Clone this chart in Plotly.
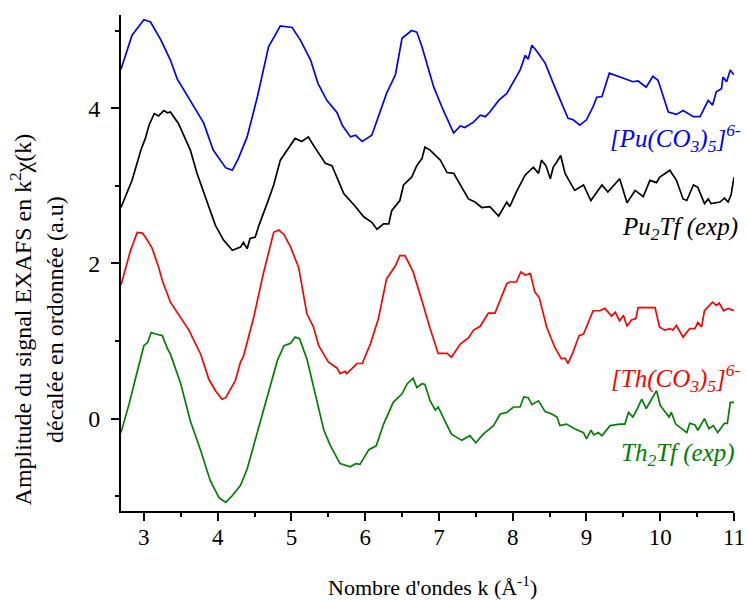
import plotly.graph_objects as go

# ---- data ----
k_pu = [2.69, 2.84, 3.00, 3.09, 3.23, 3.36, 3.45, 3.63, 3.81, 3.94, 4.11, 4.20, 4.28, 4.40, 4.54, 4.69, 4.85, 5.01,
        5.12, 5.26, 5.36, 5.48, 5.62, 5.69, 5.80, 5.87, 5.96, 6.09, 6.18, 6.29, 6.41, 6.50, 6.63, 6.70, 6.77, 6.88,
        6.93, 7.06, 7.20, 7.29, 7.35, 7.47, 7.56, 7.63, 7.69, 7.81, 7.92, 8.10, 8.17, 8.21, 8.26, 8.33, 8.44, 8.55,
        8.69, 8.75, 8.82, 8.91, 9.00, 9.09, 9.14, 9.21, 9.31, 9.45, 9.63, 9.70, 9.81, 9.90, 9.97, 10.11, 10.22,
        10.31, 10.45, 10.54, 10.65, 10.71, 10.76, 10.83, 10.85, 10.90, 10.95, 11.00]
chi_pu = [4.50, 4.94, 5.14, 5.11, 4.88, 4.62, 4.38, 4.10, 3.81, 3.46, 3.23, 3.20, 3.35, 3.63, 4.15, 4.79, 5.06, 5.04,
          4.88, 4.62, 4.32, 4.10, 3.94, 3.78, 3.63, 3.65, 3.57, 3.65, 3.89, 4.19, 4.43, 4.90, 5.00, 4.98, 4.79, 4.45,
          4.27, 3.97, 3.68, 3.77, 3.75, 3.82, 3.91, 3.89, 3.95, 4.10, 4.19, 4.49, 4.68, 4.63, 4.81, 4.73, 4.58, 4.32,
          4.02, 3.87, 3.85, 3.78, 3.85, 4.02, 4.14, 4.15, 4.45, 4.40, 4.34, 4.35, 4.27, 4.41, 4.36, 3.95, 3.92,
          3.97, 3.89, 3.89, 4.10, 4.04, 4.21, 4.25, 4.40, 4.34, 4.49, 4.43]

k_pu2tf = [2.69, 2.84, 2.96, 3.02, 3.07, 3.14, 3.20, 3.27, 3.32, 3.36, 3.47, 3.63, 3.72, 3.88, 3.97, 4.08, 4.20, 4.31,
           4.35, 4.40, 4.44, 4.51, 4.56, 4.67, 4.76, 4.85, 4.96, 5.05, 5.14, 5.23, 5.30, 5.46, 5.55, 5.71, 5.87, 5.98,
           6.09, 6.16, 6.25, 6.32, 6.36, 6.47, 6.52, 6.63, 6.70, 6.77, 6.81, 6.88, 7.02, 7.11, 7.20, 7.29, 7.40, 7.49,
           7.58, 7.69, 7.81, 7.92, 7.96, 8.05, 8.17, 8.28, 8.35, 8.39, 8.45, 8.51, 8.55, 8.60, 8.65, 8.71, 8.84, 8.96,
           9.06, 9.21, 9.29, 9.45, 9.55, 9.66, 9.77, 9.86, 9.95, 9.99, 10.13, 10.22, 10.31, 10.36, 10.45, 10.51,
           10.60, 10.65, 10.69, 10.81, 10.87, 10.92, 10.96, 11.00]
chi_pu2tf = [2.72, 3.07, 3.46, 3.61, 3.78, 3.93, 3.90, 3.97, 3.94, 3.95, 3.80, 3.46, 3.16, 2.73, 2.49, 2.30, 2.17, 2.21,
             2.27, 2.19, 2.32, 2.34, 2.49, 2.77, 3.01, 3.33, 3.48, 3.61, 3.57, 3.63, 3.52, 3.29, 3.26, 2.90, 2.73, 2.60,
             2.53, 2.44, 2.51, 2.51, 2.68, 2.81, 3.01, 3.11, 3.26, 3.35, 3.50, 3.46, 3.33, 3.17, 3.16, 3.01, 2.83, 2.79,
             2.72, 2.73, 2.61, 2.79, 2.73, 2.92, 3.14, 3.24, 3.16, 3.33, 3.26, 3.09, 3.24, 3.31, 3.39, 3.16, 2.94, 3.01,
             2.81, 3.01, 2.92, 3.09, 2.78, 2.94, 2.86, 3.07, 3.04, 3.11, 3.20, 3.07, 2.83, 2.81, 3.01, 2.98,
             2.77, 2.83, 2.77, 2.79, 2.84, 2.79, 2.88, 3.11]

k_th = [2.69, 2.82, 2.91, 2.98, 3.02, 3.11, 3.20, 3.25, 3.36, 3.50, 3.61, 3.77, 3.88, 3.97, 4.06, 4.11, 4.24, 4.31,
        4.35, 4.49, 4.62, 4.76, 4.83, 4.90, 4.99, 5.10, 5.21, 5.30, 5.37, 5.50, 5.62, 5.66, 5.73, 5.75, 5.89, 5.96,
        6.07, 6.18, 6.29, 6.41, 6.47, 6.54, 6.65, 6.77, 6.88, 6.99, 7.11, 7.17, 7.29, 7.40, 7.47, 7.56, 7.67, 7.76,
        7.92, 7.96, 8.05, 8.11, 8.17, 8.24, 8.30, 8.36, 8.46, 8.57, 8.66, 8.71, 8.75, 8.82, 8.90, 8.96, 9.09, 9.18,
        9.25, 9.34, 9.39, 9.45, 9.50, 9.55, 9.61, 9.67, 9.70, 9.93, 9.99, 10.06, 10.13, 10.17, 10.22, 10.31, 10.40,
        10.47, 10.51, 10.56, 10.60, 10.71, 10.76, 10.80, 10.86, 10.92, 11.00]
chi_th = [1.72, 2.17, 2.40, 2.39, 2.34, 2.20, 1.95, 1.78, 1.50, 1.29, 1.14, 0.83, 0.51, 0.36, 0.25, 0.27, 0.49, 0.73,
          0.80, 1.31, 1.87, 2.40, 2.43, 2.37, 2.21, 1.94, 1.35, 1.18, 0.94, 0.73, 0.65, 0.58, 0.61, 0.58, 0.71, 0.71,
          0.96, 1.29, 1.80, 1.97, 2.10, 2.10, 1.89, 1.52, 1.16, 0.84, 0.84, 0.79, 0.96, 1.04, 1.14, 1.19, 1.36, 1.36,
          1.74, 1.76, 1.76, 1.89, 1.85, 1.87, 1.63, 1.56, 1.18, 0.92, 0.77, 0.78, 0.71, 0.86, 1.07, 1.09, 1.39, 1.39,
          1.42, 1.32, 1.37, 1.26, 1.33, 1.19, 1.27, 1.29, 1.43, 1.43, 1.18, 1.14, 1.16, 1.14, 1.20, 1.05, 1.16,
          1.16, 1.24, 1.18, 1.39, 1.50, 1.46, 1.49, 1.39, 1.42, 1.39]

k_th2tf = [2.69, 2.80, 2.89, 3.00, 3.05, 3.10, 3.16, 3.25, 3.32, 3.36, 3.50, 3.63, 3.77, 3.90, 4.02, 4.11, 4.20, 4.31,
           4.40, 4.51, 4.62, 4.81, 4.90, 4.99, 5.05, 5.11, 5.21, 5.32, 5.44, 5.53, 5.66, 5.80, 5.87, 5.93, 6.05, 6.15,
           6.25, 6.38, 6.50, 6.57, 6.65, 6.70, 6.77, 6.81, 6.88, 6.95, 6.99, 7.08, 7.17, 7.31, 7.42, 7.50, 7.60, 7.74,
           7.83, 7.92, 8.01, 8.10, 8.15, 8.21, 8.26, 8.35, 8.44, 8.53, 8.60, 8.64, 8.73, 8.84, 8.96, 9.00, 9.06, 9.10,
           9.16, 9.21, 9.32, 9.45, 9.52, 9.57, 9.63, 9.68, 9.75, 9.81, 9.95, 10.00, 10.06, 10.12, 10.15, 10.21, 10.36,
           10.40, 10.47, 10.51, 10.60, 10.66, 10.72, 10.78, 10.87, 10.91, 10.95, 11.00]
chi_th2tf = [-0.18, 0.19, 0.53, 0.94, 0.98, 1.11, 1.09, 1.07, 0.90, 0.83, 0.45, -0.03, -0.41, -0.80, -1.02, -1.08, -0.99,
             -0.86, -0.65, -0.28, 0.10, 0.75, 0.94, 0.97, 1.05, 1.03, 0.77, 0.32, -0.15, -0.35, -0.58, -0.62, -0.58,
             -0.59, -0.40, -0.35, -0.07, 0.21, 0.32, 0.45, 0.52, 0.40, 0.45, 0.44, 0.23, 0.11, 0.15, -0.03, -0.20,
             -0.28, -0.22, -0.31, -0.20, -0.09, 0.06, 0.08, 0.15, 0.15, 0.28, 0.27, 0.18, 0.23, 0.09, 0.06, 0.02,
             -0.09, -0.07, -0.13, -0.18, -0.26, -0.15, -0.21, -0.18, -0.22, -0.09, -0.07, -0.07, 0.08, 0.02, 0.11,
             0.25, 0.13, 0.36, 0.17, 0.10, 0.02, 0.08, -0.07, -0.18, -0.06, -0.08, -0.15, 0.00, -0.13, -0.09, -0.18,
             -0.06, -0.06, 0.21, 0.21]

x_ticks = [3, 4, 5, 6, 7, 8, 9, 10, 11]
y_ticks = [0, 2, 4]

# (k, chi, colour, label, label y, label x-shift)
series = [
    (k_pu, chi_pu, "#0000FF", "<i>[Pu(CO<sub>3</sub>)<sub>5</sub>]<sup>6-</sup></i>", 3.62, 9),
    (k_pu2tf, chi_pu2tf, "#000000", "<i>Pu<sub>2</sub>Tf (exp)</i>", 2.45, 6),
    (k_th, chi_th, "#FF0000", "<i>[Th(CO<sub>3</sub>)<sub>5</sub>]<sup>6-</sup></i>", 0.52, 9),
    (k_th2tf, chi_th2tf, "#008000", "<i>Th<sub>2</sub>Tf (exp)</i>", -0.46, 3),
]

FONT = "Times New Roman, Liberation Serif, serif"

fig = go.Figure()
for kx, vy, col, name, ly, xs in series:
    fig.add_trace(go.Scatter(x=kx, y=vy, mode="lines", line=dict(color=col, width=1.7),
                             showlegend=False, hoverinfo="skip"))
    fig.add_annotation(x=11.0, y=ly, xref="x", yref="y", text=name, showarrow=False, xshift=xs,
                       xanchor="right", yanchor="middle", font=dict(family=FONT, size=25, color=col))

fig.add_annotation(x=-0.138, y=0.387, xref="paper", yref="paper", textangle=-90, showarrow=False,
                   text="Amplitude du signal EXAFS en k<sup>2</sup>χ(k)<br>décalée en ordonnée (a.u)",
                   font=dict(family=FONT, size=24, color="black"), xanchor="center", yanchor="middle")

fig.add_annotation(x=0.508, y=-0.152, xref="paper", yref="paper", showarrow=False,
                   text="Nombre d'ondes k (Å<sup>-1</sup>)",
                   font=dict(family=FONT, size=22, color="black"), xanchor="center", yanchor="middle")

fig.update_layout(
    width=747, height=601,
    margin=dict(l=121, r=13, t=15, b=90, autoexpand=False),
    paper_bgcolor="white", plot_bgcolor="white",
    font=dict(family=FONT, size=23, color="black"),
    xaxis=dict(range=[2.69, 11.0], tickvals=x_ticks, ticks="outside", ticklen=8, tickwidth=1.5,
               tickcolor="black", showline=True, linecolor="black", linewidth=2, showgrid=False,
               zeroline=False, automargin=False, ticklabelstandoff=-4,
               minor=dict(dtick=0.5, ticks="outside", ticklen=4, tickwidth=1.5, tickcolor="black"),
               tickfont=dict(family=FONT, size=23)),
    yaxis=dict(range=[-1.19, 5.2], tickvals=y_ticks, ticks="outside", ticklen=8, tickwidth=1.5,
               tickcolor="black", showline=True, linecolor="black", linewidth=2, showgrid=False,
               zeroline=False, automargin=False, ticklabelstandoff=6,
               minor=dict(dtick=1, tick0=1, ticks="outside", ticklen=4, tickwidth=1.5, tickcolor="black"),
               tickfont=dict(family=FONT, size=24)),
)

fig.write_html("out.html", config={"displayModeBar": False},
               post_script="document.body.style.margin='0px';")
